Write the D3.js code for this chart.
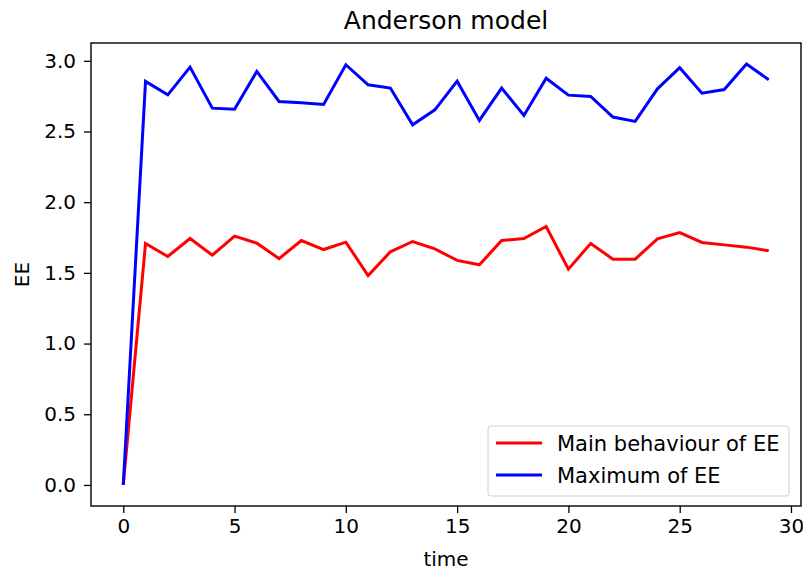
<!DOCTYPE html>
<html><head><meta charset="utf-8">
<script src="https://cdn.jsdelivr.net/npm/d3@7"></script>
<style>body{margin:0;background:#fff}svg{display:block;font-family:"DejaVu Sans",sans-serif}</style>
</head><body>
<svg id="c" width="803" height="570"></svg>
<script>
const time = d3.range(0, 30);
const mainEE = [0, 1.708, 1.616, 1.743, 1.625, 1.760, 1.710, 1.601, 1.729, 1.665, 1.717, 1.481, 1.649, 1.722, 1.670, 1.588, 1.557, 1.729, 1.743, 1.828, 1.526, 1.708, 1.597, 1.597, 1.741, 1.785, 1.715, 1.698, 1.682, 1.656];
const maxEE = [0, 2.854, 2.759, 2.955, 2.665, 2.658, 2.925, 2.712, 2.703, 2.691, 2.972, 2.830, 2.807, 2.547, 2.653, 2.856, 2.578, 2.807, 2.613, 2.877, 2.757, 2.748, 2.602, 2.571, 2.802, 2.951, 2.771, 2.797, 2.977, 2.866];
const xTicks = [0, 5, 10, 15, 20, 25, 30];
const yTicks = [0.0, 0.5, 1.0, 1.5, 2.0, 2.5, 3.0];
const series = [
  {name: "Main behaviour of EE", values: mainEE, color: "#ff0000"},
  {name: "Maximum of EE", values: maxEE, color: "#0000ff"}
];

const svg = d3.select("#c");
const L = 91, R = 801, T = 43, B = 506;
const xmax = 29, ymax = d3.max(maxEE);
const x = d3.scaleLinear().domain([-0.05 * xmax, xmax * 1.05]).range([L, R]);
const y = d3.scaleLinear().domain([-0.05 * ymax, ymax * 1.05]).range([B, T]);

const line = d3.line().x((d, i) => x(time[i])).y(d => y(d));
series.forEach(s => {
  svg.append("path").datum(s.values).attr("d", line)
    .attr("fill", "none").attr("stroke", s.color).attr("stroke-width", 3)
    .attr("stroke-linejoin", "miter");
});

const xa = svg.append("g").attr("transform", `translate(0,${B})`)
  .call(d3.axisBottom(x).tickValues(xTicks).tickFormat(d3.format("d")).tickSize(7).tickPadding(6));
const ya = svg.append("g").attr("transform", `translate(${L},0)`)
  .call(d3.axisLeft(y).tickValues(yTicks).tickFormat(d3.format(".1f")).tickSize(7).tickPadding(8));
[xa, ya].forEach(g => {
  g.select(".domain").remove();
  g.selectAll(".tick line").attr("stroke", "#000").attr("stroke-width", 1.3);
  g.selectAll(".tick text").attr("fill", "#000").attr("font-size", 20).attr("font-family", "DejaVu Sans");
});
svg.append("rect").attr("x", L).attr("y", T).attr("width", R - L).attr("height", B - T)
  .attr("fill", "none").attr("stroke", "#000").attr("stroke-width", 1.4);

svg.append("text").attr("x", (L + R) / 2).attr("y", 29).attr("text-anchor", "middle")
  .attr("font-size", 25).text("Anderson model");
svg.append("text").attr("x", (L + R) / 2).attr("y", 566).attr("text-anchor", "middle")
  .attr("font-size", 20).text("time");
svg.append("text").attr("transform", `translate(29,${(T + B) / 2}) rotate(-90)`).attr("text-anchor", "middle")
  .attr("font-size", 20).text("EE");

const lg = svg.append("g").attr("transform", "translate(488,426)");
lg.append("rect").attr("width", 301).attr("height", 70).attr("rx", 3)
  .attr("fill", "#fff").attr("fill-opacity", 0.8).attr("stroke", "#d0d0d0").attr("stroke-width", 1);
series.forEach((s, i) => {
  const yy = 17 + i * 32;
  lg.append("line").attr("x1", 8).attr("x2", 54).attr("y1", yy).attr("y2", yy)
    .attr("stroke", s.color).attr("stroke-width", 3);
  lg.append("text").attr("x", 69).attr("y", yy + 8).attr("font-size", 21).text(s.name);
});
</script>
</body></html>
